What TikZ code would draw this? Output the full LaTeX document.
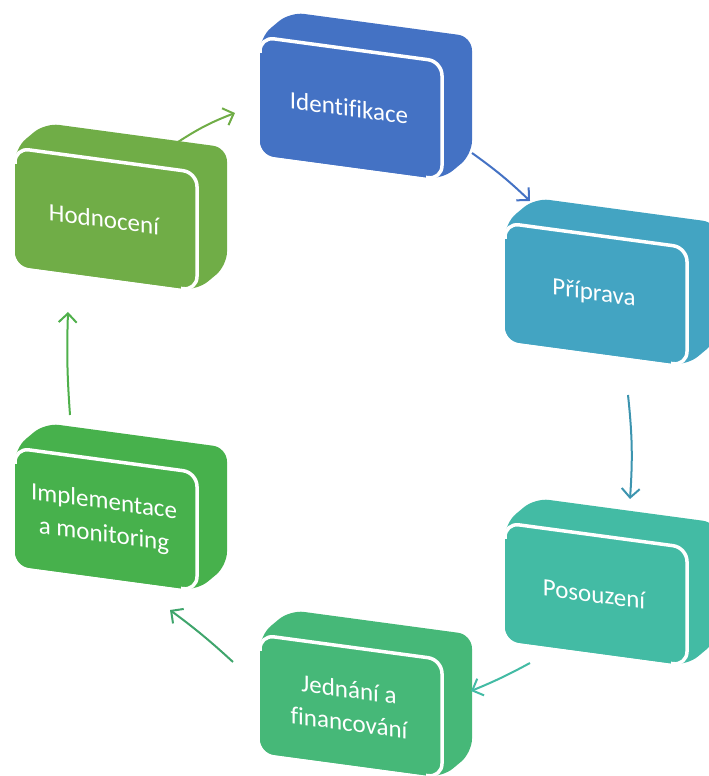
\documentclass[tikz,border=0pt]{standalone}
\usepackage{fontspec}
\setmainfont{Carlito}[Ligatures=NoCommon]
\usetikzlibrary{arrows.meta,positioning}
\definecolor{identblue}{HTML}{4472C4}
\definecolor{pripblue}{HTML}{43A4C2}
\definecolor{posougreen}{HTML}{43BBA4}
\definecolor{jednagreen}{HTML}{46B878}
\definecolor{implgreen}{HTML}{47B14C}
\definecolor{hodngreen}{HTML}{70AD47}
\newcommand\stepblock[5]{%
\begin{scope}[shift={(#2,#3)}, cm={1,-0.135,0,1,(0,0)}]
  \fill[#4, rounded corners=14] (0,0) -- (30,29) -- (212,29) -- (212,-89) -- (182,-118) -- (0,-118) -- cycle;
  \fill[#4, rounded corners=14] (0,-118) rectangle (182,0);
  \draw[white, line width=3.5, rounded corners=14] (0,-16) -- (0,0) -- (182,0) -- (182,-118) -- (166,-118);
  \node[blocktext] (#1) at (89,-59) {#5};
\end{scope}
}

\begin{document}
\begin{tikzpicture}[x=1pt, y=1pt,
    blocktext/.style={text=white, font=\fontsize{25}{33}\selectfont, align=center, transform shape, inner sep=0pt},
    cycarrow/.style={line width=2, -{Straight Barb[length=9, width=18, line width=2]}}]
	%% canvas
	\clip (0,0) rectangle (709,776);

	% the six blocks of the cycle
	\stepblock{ident}{260}{739}{identblue}{Identifikace}
	\stepblock{prip}{505}{553}{pripblue}{Příprava}
	\stepblock{posou}{505}{253}{posougreen}{Posouzení}
	\stepblock{jedna}{260}{141}{jednagreen}{Jednání a\\financování}
	\stepblock{impl}{15}{328}{implgreen}{Implementace\\a monitoring}
	\stepblock{hodn}{15}{628}{hodngreen}{Hodnocení}

	% arrow ends
	\coordinate (identout) at (472,623);
	\coordinate (pripin) at (530,575);
	\coordinate (pripout) at (628,381);
	\coordinate (posouin) at (630,277);
	\coordinate (posouout) at (530,113);
	\coordinate (jednain) at (471,85);
	\coordinate (jednaout) at (233,114);
	\coordinate (implin) at (170,166);
	\coordinate (implout) at (70,361);
	\coordinate (hodnin) at (68,464);
	\coordinate (hodnout) at (178,634);
	\coordinate (identin) at (235,663);

	\draw[cycarrow, identblue] (identout) to[bend left=4] (pripin);
	\draw[cycarrow, pripblue!90!black] (pripout) to[bend left=5] (posouin);
	\draw[cycarrow, posougreen] (posouout) to[bend left=3] (jednain);
	\draw[cycarrow, jednagreen!90!black] (jednaout) to[bend right=3] (implin);
	\draw[cycarrow, implgreen!80!hodngreen] (implout) to[bend left=3] (hodnin);
	\draw[cycarrow, hodngreen] (hodnout) to[bend left=6] (identin);
\end{tikzpicture}
\end{document}
